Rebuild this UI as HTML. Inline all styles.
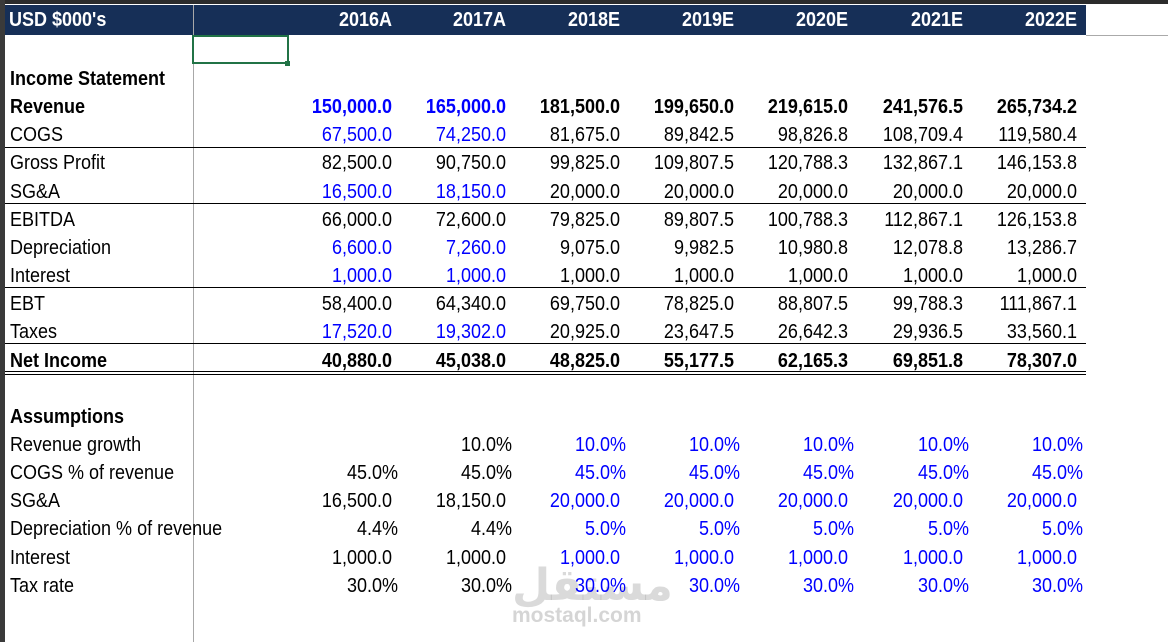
<!DOCTYPE html>
<html><head><meta charset="utf-8">
<style>
html,body{margin:0;padding:0;}
body{width:1168px;height:642px;position:relative;overflow:hidden;background:#fff;font-family:"Liberation Sans",Arial,sans-serif;}
.abs{position:absolute;}
.t{position:absolute;font-size:20px;line-height:28px;height:28px;white-space:nowrap;color:#000;transform:scaleX(0.9);transform-origin:left center;}
.r{text-align:right;width:120px;transform-origin:right center;}
.b{font-weight:bold;}
.hline{position:absolute;height:1px;background:#000;}
</style></head>
<body>
<div class="abs" style="left:0;top:0;width:1168px;height:4px;background:#2b2b2b"></div>
<div class="abs" style="left:0;top:0;width:5px;height:642px;background:#3a3a3a"></div>
<div class="abs" style="left:5px;top:5px;width:1081px;height:30px;background:#162f57"></div>
<div class="abs" style="left:1086px;top:35px;width:82px;height:1px;background:#aaa"></div>
<div class="abs" style="left:193px;top:5px;width:1px;height:637px;background:#a8a8a8"></div>
<div class="abs" style="left:192px;top:35px;width:97px;height:29px;border:2px solid #217346;box-sizing:border-box"></div>
<div class="abs" style="left:285px;top:61px;width:5px;height:5px;background:#217346"></div>
<div class="t b" style="left:9px;top:6px;color:#fff">USD $000's</div>
<div class="abs" style="left:512px;top:560px;color:rgba(150,150,150,0.35);font-size:44px;font-weight:bold;font-family:'DejaVu Sans',sans-serif">مستقل</div>
<div class="abs" style="left:512px;top:604px;color:rgba(150,150,150,0.4);font-size:21px;font-weight:bold">mostaql.com</div>
<div id="sheet"></div>
<script>
const years=["2016A","2017A","2018E","2019E","2020E","2021E","2022E"];
const rowLabels=["Income Statement","Revenue","COGS","Gross Profit","SG&A","EBITDA","Depreciation","Interest","EBT","Taxes","Net Income","","Assumptions","Revenue growth","COGS % of revenue","SG&A","Depreciation % of revenue","Interest","Tax rate"];
const revenue=["150,000.0","165,000.0","181,500.0","199,650.0","219,615.0","241,576.5","265,734.2"];
const cogs=["67,500.0","74,250.0","81,675.0","89,842.5","98,826.8","108,709.4","119,580.4"];
const grossProfit=["82,500.0","90,750.0","99,825.0","109,807.5","120,788.3","132,867.1","146,153.8"];
const sga=["16,500.0","18,150.0","20,000.0","20,000.0","20,000.0","20,000.0","20,000.0"];
const ebitda=["66,000.0","72,600.0","79,825.0","89,807.5","100,788.3","112,867.1","126,153.8"];
const depreciation=["6,600.0","7,260.0","9,075.0","9,982.5","10,980.8","12,078.8","13,286.7"];
const interest=["1,000.0","1,000.0","1,000.0","1,000.0","1,000.0","1,000.0","1,000.0"];
const ebt=["58,400.0","64,340.0","69,750.0","78,825.0","88,807.5","99,788.3","111,867.1"];
const taxes=["17,520.0","19,302.0","20,925.0","23,647.5","26,642.3","29,936.5","33,560.1"];
const netIncome=["40,880.0","45,038.0","48,825.0","55,177.5","62,165.3","69,851.8","78,307.0"];
const revGrowth=["","10.0%","10.0%","10.0%","10.0%","10.0%","10.0%"];
const cogsPct=["45.0%","45.0%","45.0%","45.0%","45.0%","45.0%","45.0%"];
const sgaAssump=["16,500.0","18,150.0","20,000.0","20,000.0","20,000.0","20,000.0","20,000.0"];
const depPct=["4.4%","4.4%","5.0%","5.0%","5.0%","5.0%","5.0%"];
const interestAssump=["1,000.0","1,000.0","1,000.0","1,000.0","1,000.0","1,000.0","1,000.0"];
const taxRate=["30.0%","30.0%","30.0%","30.0%","30.0%","30.0%","30.0%"];

const sheet=document.getElementById('sheet');
const colRight=i=>392+i*114.1;
const rowTop=i=>65+i*28.15;
function slug(s){return s.toLowerCase().replace(/[^a-z0-9]+/g,'-').replace(/^-|-$/g,'');}
function cell(txt,x,y,cls,color,right){
  const d=document.createElement('div');
  d.className='t '+cls+(right?' r':'');
  d.textContent=txt;
  d.style.left=(right?x-120:x)+'px';d.style.top=y+'px';
  if(color)d.style.color=color;
  sheet.appendChild(d);return d;
}
years.forEach((y,i)=>{
  const d=cell(y,colRight(i),6,'b','#fff',true);
  
  
});
const rows=[
 [1,revenue,true,[0,1]],[2,cogs,false,[0,1]],[3,grossProfit,false,[]],[4,sga,false,[0,1]],
 [5,ebitda,false,[]],[6,depreciation,false,[0,1]],[7,interest,false,[0,1]],[8,ebt,false,[]],
 [9,taxes,false,[0,1]],[10,netIncome,true,[]],
 [13,revGrowth,false,[2,3,4,5,6]],[14,cogsPct,false,[2,3,4,5,6]],[15,sgaAssump,false,[2,3,4,5,6]],
 [16,depPct,false,[2,3,4,5,6]],[17,interestAssump,false,[2,3,4,5,6]],[18,taxRate,false,[2,3,4,5,6]]
];
const boldLabels=[0,1,10,12];
rowLabels.forEach((l,i)=>{
  if(!l)return;
  const d=cell(l,10,rowTop(i),boldLabels.includes(i)?'b':'',null,false);
  
  
});
rows.forEach(([ri,vals,bold,blueIdx])=>{
  vals.forEach((v,i)=>{
    if(!v)return;
    const pctShift=v.indexOf('%')>=0?6:0;
    const d=cell(v,colRight(i)+pctShift,rowTop(ri),bold?'b':'',blueIdx.includes(i)?'#0000ff':'#000',true);
    
    
  });
});
[[147,'cogs-underline'],[203,'sga-underline'],[287,'interest-underline'],[343,'taxes-underline'],[371,'net-income-double-line-1'],[374,'net-income-double-line-2']].forEach(([y,n])=>{
  const d=document.createElement('div');
  d.className='hline';d.style.left='5px';d.style.top=y+'px';d.style.width='1081px';
  
  
  sheet.appendChild(d);
});
</script>
</body></html>
